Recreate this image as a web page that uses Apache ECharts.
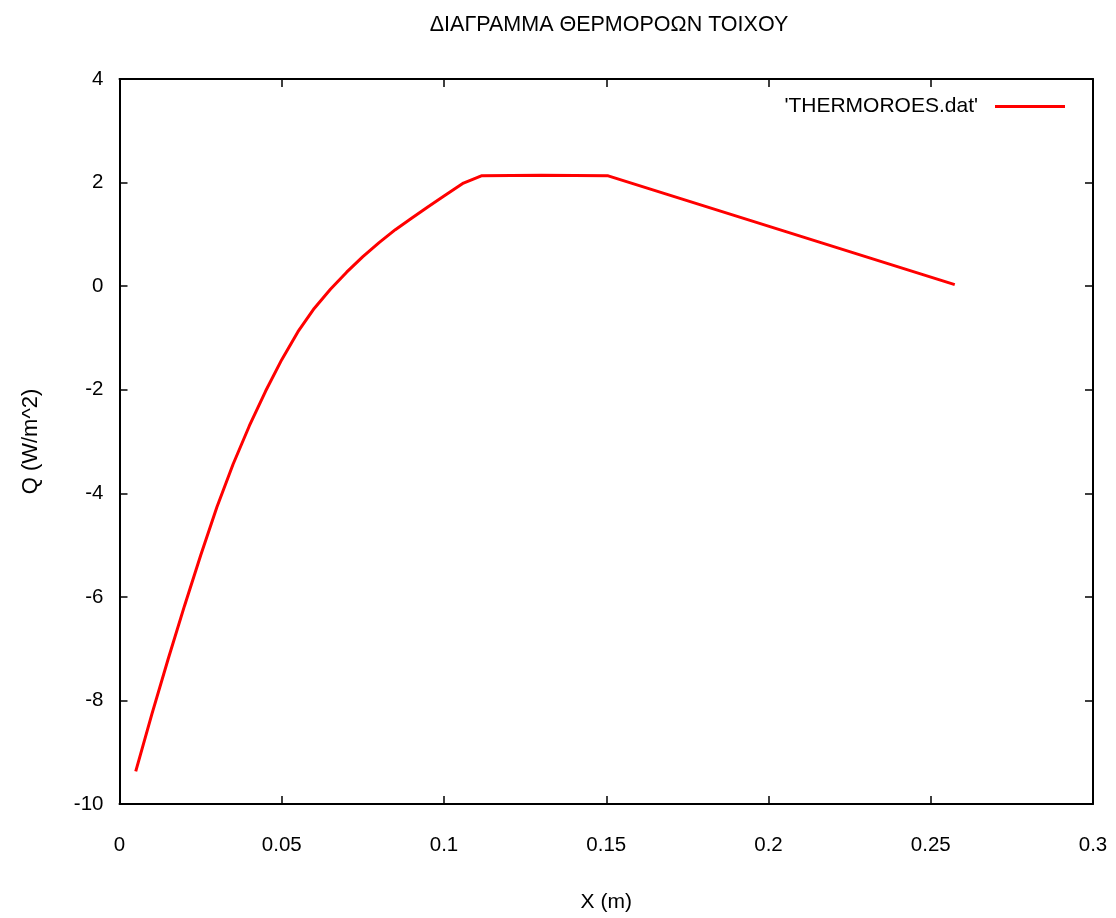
<!DOCTYPE html>
<html>
<head>
<meta charset="utf-8">
<script src="https://cdn.jsdelivr.net/npm/echarts@6/dist/echarts.min.js"></script>
<style>
html,body{margin:0;padding:0;background:#fff;}
#c{width:1116px;height:918px;}
</style>
</head>
<body>
<div id="c"></div>
<script>
const titleText = 'ΔΙΑΓΡΑΜΜΑ ΘΕΡΜΟΡΟΩΝ ΤΟΙΧΟΥ';
const seriesName = "'THERMOROES.dat'";
const xName = 'X (m)';
const yName = 'Q (W/m^2)';
const xValues = [0.005, 0.010, 0.015, 0.020, 0.025, 0.030, 0.035, 0.040, 0.045, 0.050, 0.055, 0.060, 0.065, 0.070, 0.075, 0.080, 0.085, 0.090, 0.095, 0.100, 0.106, 0.1115, 0.130, 0.1506, 0.2574];
const qValues = [-9.37, -8.26, -7.20, -6.18, -5.20, -4.27, -3.44, -2.70, -2.03, -1.42, -0.88, -0.43, -0.06, 0.27, 0.57, 0.84, 1.09, 1.31, 1.53, 1.74, 1.99, 2.13, 2.14, 2.13, 0.03];
const xMin = 0, xMax = 0.3, xStep = 0.05;
const yMin = -10, yMax = 4, yStep = 2;

const font = 'Liberation Sans, Arial, sans-serif';
const chart = echarts.init(document.getElementById('c'), null, {renderer: 'canvas'});
const tickStyle = {show: true, inside: true, length: 8, lineStyle: {color: '#000', width: 1.5}};
const lineStyle = {show: true, onZero: false, lineStyle: {color: '#000', width: 2}};
chart.setOption({
  animation: false,
  backgroundColor: '#fff',
  title: {
    text: titleText,
    left: 604, top: 9, textAlign: 'center',
    textStyle: {fontFamily: font, fontSize: 21.5, fontWeight: 'normal', color: '#000'}
  },
  legend: {
    right: 51, top: 96, padding: 0,
    align: 'right',
    itemWidth: 70, itemHeight: 3,
    icon: 'rect',
    data: [seriesName],
    textStyle: {fontFamily: font, fontSize: 21, color: '#000', padding: [0, 12, 0, 0]}
  },
  grid: {left: 119.5, right: 23, top: 79, bottom: 108.5, containLabel: false},
  xAxis: [{
    type: 'value', min: xMin, max: xMax, interval: xStep,
    name: xName, nameLocation: 'middle', nameGap: 88,
    nameTextStyle: {fontFamily: font, fontSize: 21, color: '#000'},
    axisLine: lineStyle, axisTick: tickStyle,
    axisLabel: {fontFamily: font, fontSize: 20.5, color: '#000', margin: 31,
      formatter: v => String(+v.toFixed(3))},
    splitLine: {show: false}
  }, {
    type: 'value', min: xMin, max: xMax, interval: xStep, position: 'top',
    axisLine: lineStyle, axisTick: tickStyle, axisLabel: {show: false}, splitLine: {show: false}
  }],
  yAxis: [{
    type: 'value', min: yMin, max: yMax, interval: yStep,
    name: yName, nameLocation: 'middle', nameGap: 78, nameRotate: 90,
    nameTextStyle: {fontFamily: font, fontSize: 22, color: '#000'},
    axisLine: lineStyle, axisTick: tickStyle,
    axisLabel: {fontFamily: font, fontSize: 20.5, color: '#000', margin: 16},
    splitLine: {show: false}
  }, {
    type: 'value', min: yMin, max: yMax, interval: yStep, position: 'right',
    axisLine: lineStyle, axisTick: tickStyle, axisLabel: {show: false}, splitLine: {show: false}
  }],
  series: [{
    name: seriesName,
    type: 'line',
    data: xValues.map((x, i) => [x, qValues[i]]),
    showSymbol: false,
    symbol: 'none',
    smooth: false,
    lineStyle: {color: '#ff0000', width: 3},
    itemStyle: {color: '#ff0000'}
  }]
});
</script>
</body>
</html>
